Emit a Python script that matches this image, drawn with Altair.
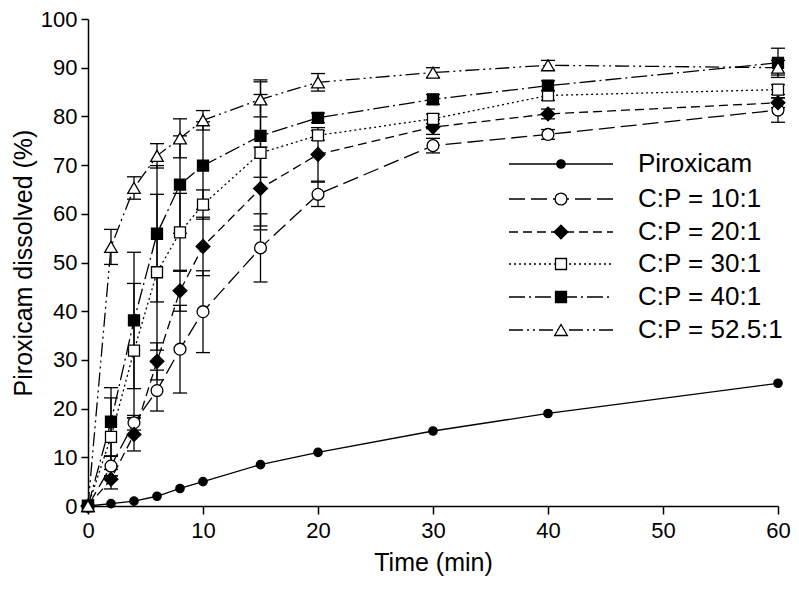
import altair as alt
import pandas as pd

# ---------------- data ----------------
time = [0, 2, 4, 6, 8, 10, 15, 20, 30, 40, 60]

series_names = ["Piroxicam", "C:P = 10:1", "C:P = 20:1",
                "C:P = 30:1", "C:P = 40:1", "C:P = 52.5:1"]

piroxicam = [0, 0.5, 1.0, 2.0, 3.6, 5.0, 8.5, 11.0, 15.4, 19.0, 25.2]

cp10 = [0, 8.2, 17.1, 23.7, 32.2, 39.9, 53.0, 64.0, 74.0, 76.3, 81.3]
cp10_err = [0, 2.0, 1.5, 4.2, 9.0, 8.4, 7.0, 2.5, 1.5, 1.0, 2.5]

cp20 = [0, 5.5, 14.7, 29.7, 44.2, 53.3, 65.2, 72.2, 77.8, 80.5, 82.8]
cp20_err = [0, 2.0, 3.4, 3.8, 4.2, 6.0, 8.5, 5.5, 1.5, 1.0, 1.0]

cp30 = [0, 14.2, 31.9, 48.0, 56.2, 61.9, 72.5, 76.1, 79.5, 84.3, 85.5]
cp30_err = [0, 8.0, 13.8, 16.0, 8.0, 3.0, 15.0, 1.0, 1.0, 1.0, 1.0]

cp40 = [0, 17.3, 38.1, 55.9, 66.0, 69.9, 76.0, 79.7, 83.5, 86.3, 91.0]
cp40_err = [0, 7.0, 14.0, 14.0, 10.0, 9.0, 8.5, 1.0, 1.0, 1.0, 3.0]

cp525 = [0, 53.2, 65.3, 71.9, 75.5, 79.2, 83.5, 87.0, 89.0, 90.5, 90.0]
cp525_err = [0, 3.6, 2.3, 2.5, 4.0, 2.0, 3.6, 1.8, 1.0, 1.0, 1.5]

values = [piroxicam, cp10, cp20, cp30, cp40, cp525]
errors = [None, cp10_err, cp20_err, cp30_err, cp40_err, cp525_err]

x_ticks = [0, 10, 20, 30, 40, 50, 60]
y_ticks = [0, 10, 20, 30, 40, 50, 60, 70, 80, 90, 100]

# ---------------- styles ----------------
shapes = ["circle", "circle", "diamond", "square", "square", "triangle-up"]
fills = ["black", "white", "black", "white", "black", "white"]
sizes = [70, 140, 190, 121, 121, 160]
dashes = [None, [16, 6], [9, 5], [2, 3], [16, 4, 2, 4], [14, 4, 2, 4, 2, 4]]

FONT = "Liberation Sans"
TOP = 11
W, H = 690, 487
LW = 1.3

x_enc = alt.X("time:Q", title="Time (min)",
              scale=alt.Scale(domain=[0, 60], nice=False, zero=False),
              axis=alt.Axis(values=x_ticks, format="d", tickSize=8,
                            labelPadding=6, titlePadding=9))
y_enc = alt.Y("value:Q", title="Piroxicam dissolved (%)",
              scale=alt.Scale(domain=[0, 100], nice=False),
              axis=alt.Axis(values=y_ticks, format="d", tickSize=7,
                            labelPadding=4, titlePadding=4))

line_layers, err_layers, point_layers, legend_layers = [], [], [], []

# legend rows (page pixel rows of the reference minus plot top offset)
legend_rows_page = [164, 199, 232, 264, 297, 330]
legend_y = [r - (8 + TOP) for r in legend_rows_page]

for i, name in enumerate(series_names):
    df = pd.DataFrame({"time": time, "value": values[i]})
    base = alt.Chart(df)
    line_kw = dict(color="black", strokeWidth=LW)
    if dashes[i] is not None:
        line_kw["strokeDash"] = dashes[i]
    line_layers.append(base.mark_line(**line_kw).encode(x=x_enc, y=y_enc))

    if errors[i] is not None:
        edf = pd.DataFrame({"time": time, "value": values[i], "err": errors[i]})
        edf["lo"] = edf["value"] - edf["err"]
        edf["hi"] = edf["value"] + edf["err"]
        edf = edf[edf["err"] > 0]
        eb = alt.Chart(edf)
        err_layers.append(
            eb.mark_rule(color="black", strokeWidth=LW).encode(
                x=x_enc, y=alt.Y("lo:Q"), y2="hi:Q"))
        for col in ["lo", "hi"]:
            err_layers.append(
                eb.mark_tick(orient="horizontal", size=14, thickness=LW,
                             color="black", opacity=1).encode(
                    x=x_enc, y=alt.Y(f"{col}:Q")))

    point_layers.append(
        base.mark_point(shape=shapes[i], size=sizes[i], filled=True,
                        fill=fills[i], stroke="black", strokeWidth=LW,
                        opacity=1, fillOpacity=1).encode(x=x_enc, y=y_enc))

    # legend entry
    ldata = alt.Data(values=[{"label": name}])
    lc = alt.Chart(ldata)
    lkw = dict(color="black", strokeWidth=LW)
    if dashes[i] is not None:
        lkw["strokeDash"] = dashes[i]
    legend_layers.append(lc.mark_rule(**lkw).encode(
        x=alt.value(421), x2=alt.value(525), y=alt.value(legend_y[i])))
    legend_layers.append(lc.mark_point(
        shape=shapes[i], size=sizes[i], filled=True, fill=fills[i],
        stroke="black", strokeWidth=LW, opacity=1, fillOpacity=1).encode(
        x=alt.value(473), y=alt.value(legend_y[i])))
    legend_layers.append(lc.mark_text(
        align="left", baseline="middle", font=FONT, fontSize=26,
        color="black").encode(
        x=alt.value(550), y=alt.value(legend_y[i]), text="label:N"))

chart = alt.layer(*(line_layers + err_layers + point_layers + legend_layers)).properties(
    width=W, height=H,
    background="white",
    autosize=alt.AutoSizeParams(type="none"),
    padding={"left": 80, "top": TOP, "right": 13, "bottom": 76},
).configure_view(stroke=None).configure_axis(
    grid=False, domainColor="black", domainWidth=1.5, tickColor="black",
    tickWidth=1.5, labelFont=FONT, labelFontSize=22, labelColor="black",
    titleFont=FONT, titleFontSize=25, titleFontWeight="normal",
    titleColor="black", labelFlush=False,
)

chart.save("out.html", embed_options={"renderer": "svg", "actions": False})
